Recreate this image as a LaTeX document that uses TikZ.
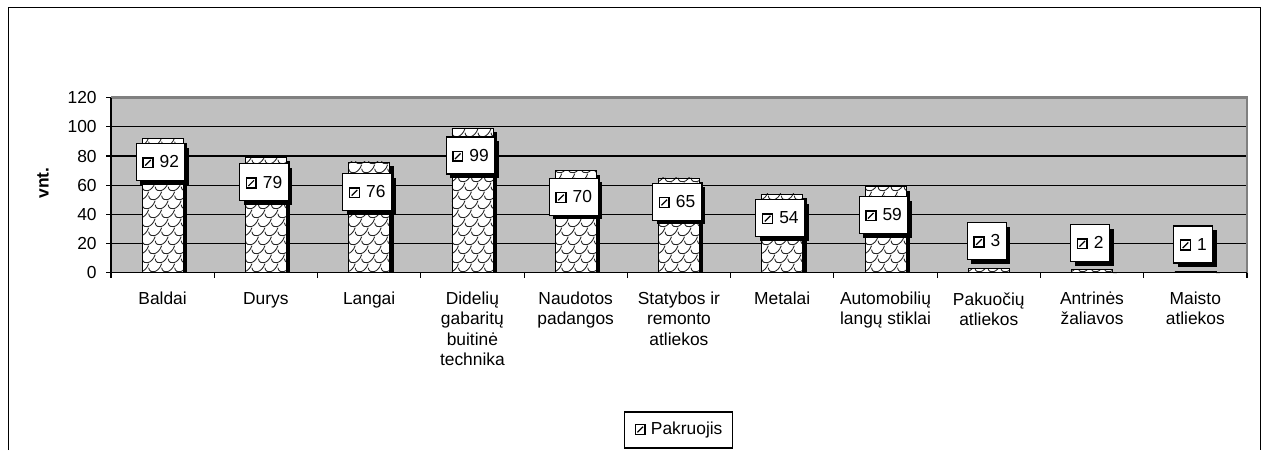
\documentclass[tikz,border=0pt]{standalone}
\usepackage{fontspec}
\setmainfont{Liberation Sans}
\usetikzlibrary{positioning,shadows}
\definecolor{plotgray}{HTML}{C0C0C0}
\definecolor{framegray}{HTML}{808080}
\newcommand\mk{\tikz[baseline=0pt]{\draw[line width=0.9pt] (0pt,0pt) rectangle (5.6pt,5.6pt); \draw[line width=0.7pt] (1.2pt,1.2pt) -- (4.4pt,4.4pt);}}

\begin{document}
\begin{tikzpicture}[x=0.02cm, y=-0.02cm,
  every node/.style={font=\fontsize{9.9}{11.4}\selectfont},
  valbox/.style={draw, line width=0.6pt, fill=white, minimum height=0.74cm, inner xsep=0.12cm, inner ysep=0pt,
    drop shadow={shadow xshift=2.3pt, shadow yshift=-2.3pt, fill=black, opacity=1}},
  catlab/.style={anchor=north, align=center, inner sep=0pt},
  scaleline/.style={line width=0.5pt, black!85}]
			\useasboundingbox (0,0) rectangle (1267,450);

			% Outer frame
			\draw[line width=0.9pt] (8.5,450) -- (8.5,7.5) -- (1260.5,7.5) -- (1260.5,450);

			% Plot area and grid
			\fill[plotgray] (111,97.5) rectangle (1247,272.7);
			\foreach \k in {1,...,5}
				\draw[line width=0.6pt] (111,272.7-29.17*\k) -- (1247,272.7-29.17*\k);
			\draw[framegray, line width=1.2pt] (111,97.5) -- (1247,97.5) -- (1247,272.7);

			% Bars
			\foreach \v [count=\i from 0] in {92,79,76,99,70,65,54,59,3,2,1} {
				\pgfmathsetmacro\cx{111+103.27*(\i+0.5)}
				\pgfmathsetmacro\bt{272.7-1.4583*\v}
				\pgfmathsetmacro\st{min(\bt+4,272.7)}
				\fill[black] (\cx+20.5,\st) rectangle (\cx+24.5,272.7);
				\begin{scope}
					\clip (\cx-20.5,\bt) rectangle (\cx+20.5,272.7);
					\fill[white] (\cx-20.5,\bt) rectangle (\cx+20.5,272.7);
					\foreach \r in {0,...,22} {
						\foreach \k in {-1,...,3} {
							\pgfmathsetmacro\sx{\cx-20.5+\k*13+mod(\r,2)*6.5}
							\pgfmathsetmacro\sy{272.7-\r*9+4}
							\draw[scaleline] (\sx,\sy) .. controls (\sx+1,\sy+7) and (\sx+10,\sy+5) .. (\sx+13,\sy-4);
						}
					}
				\end{scope}
				\draw[line width=0.4pt] (\cx-20.5,\bt) rectangle (\cx+20.5,272.7);
			}

			% Axes and ticks
			\draw[line width=0.6pt] (111,97.5) -- (111,272.7) -- (1247,272.7);
			\foreach \k/\lab in {0/0,1/20,2/40,3/60,4/80,5/100,6/120} {
				\draw[line width=0.6pt] (106,272.7-29.17*\k) -- (111,272.7-29.17*\k);
				\node[anchor=east, inner sep=0pt] (t\k) at (97,272.7-29.17*\k) {\lab};
			}
			\foreach \k in {0,...,11}
				\draw[line width=0.6pt] (111+103.27*\k,272.7) -- (111+103.27*\k,278);

			\node[rotate=90, font=\fontsize{9.9}{11.4}\selectfont\bfseries] (ylab) at (43,183) {vnt.};

			% Category labels
			\foreach \t [count=\i from 0] in {Baldai, Durys, Langai, {Didelių\\gabaritų\\buitinė\\technika},
				{Naudotos\\padangos}, {Statybos ir\\remonto\\atliekos}, Metalai, {Automobilių\\langų stiklai},
				{Pakuočių\\atliekos}, {Antrinės\\žaliavos}, {Maisto\\atliekos}}
				\node[catlab] (c\i) at (111+103.27*\i+51.6,292) {\t};

			% Value labels
			\foreach \v/\ly [count=\i from 0] in {92/162,79/182.4,76/192,99/155.5,70/196.7,65/201.7,
				54/218,59/215,3/241.3,2/243,1/244.5}
				\node[valbox] (v\i) at (111+103.27*\i+51.6-2,\ly) {\mk\hspace{3.4pt}\v};

			% Legend
			\node[draw, line width=0.6pt, minimum height=0.72cm, inner xsep=0.2cm] (leg) at (678.5,430) {\mk\hspace{2.8pt}Pakruojis};

		\end{tikzpicture}
\end{document}
